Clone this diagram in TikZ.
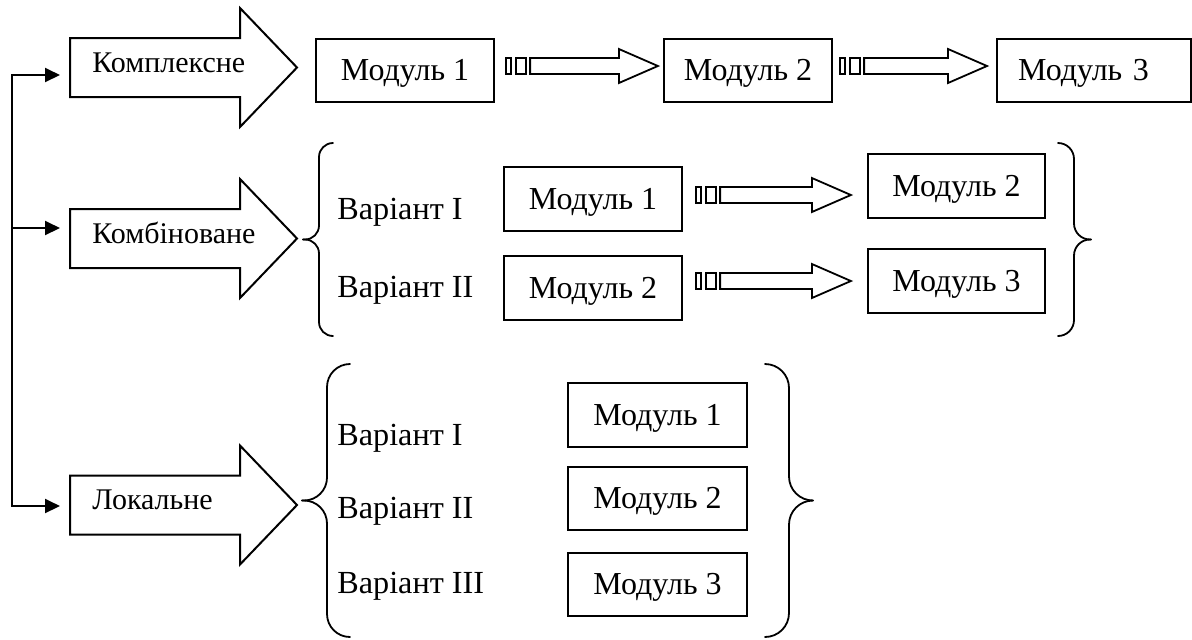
\documentclass[tikz,border=0pt]{standalone}
\usepackage{fontspec}
\setmainfont{Liberation Serif}
\usetikzlibrary{positioning,calc,arrows.meta}
\tikzstyle{scheme} = [x = 0.5pt, y = -0.5pt]
\tikzstyle{blockStyle} = [draw=black, fill=white, line width=1pt]
\tikzstyle{blockText} = [anchor=base west, inner sep=0pt, font=\fontsize{15}{17}\selectfont]
\tikzstyle{moduleBox} = [draw=black, line width=1.1pt, minimum height=31.5pt, inner sep=0pt, text height=10.5pt, text depth=0.5pt, font=\fontsize{16}{18}\selectfont]
\tikzstyle{variantText} = [anchor=base west, inner sep=0pt, font=\fontsize{16.1}{18}\selectfont]
\tikzstyle{stripeStyle} = [draw=black, fill=white, line width=0.9pt]
\tikzstyle{braceStyle} = [line width=0.9pt, line cap=round]
\tikzstyle{feedArrow} = [line width=1pt, -{Triangle[length=7.5pt,width=7pt]}, shorten >=5pt]
% big hollow arrow with its label, #1 name, #2 centre y, #3 text
\newcommand{\blockArrow}[3]{
  \coordinate (#1) at (70,#2);
  \filldraw [blockStyle] (70,#2-29.5) -- (240,#2-29.5) -- (240,#2-59.5) -- (297,#2)
    -- (240,#2+59.5) -- (240,#2+29.5) -- (70,#2+29.5) -- cycle;
  \node [blockText] (#1Text) at (92,#2+4.5) {#3};
}
% striped arrow between two boxes, #3 start gap, #4 end gap, #5 shift in y
\newcommand{\stripedArrow}[5]{
  \coordinate (arrowStart) at ($(#1.east)+(#3,#5)$);
  \coordinate (arrowHelp) at ($(#2.west)+(-#4,0)$);
  \coordinate (arrowEnd) at (arrowHelp |- arrowStart);
  \filldraw [stripeStyle] ($(arrowStart)+(0,-8)$) rectangle ($(arrowStart)+(5,8)$);
  \filldraw [stripeStyle] ($(arrowStart)+(10,-8)$) rectangle ($(arrowStart)+(20,8)$);
  \filldraw [stripeStyle] ($(arrowStart)+(24,-8)$) -- ($(arrowEnd)+(-39,-8)$) -- ($(arrowEnd)+(-39,-17)$)
    -- (arrowEnd) -- ($(arrowEnd)+(-39,17)$) -- ($(arrowEnd)+(-39,8)$) -- ($(arrowStart)+(24,8)$) -- cycle;
}
% curly brace, #1 end x, #2 line x, #3 tip x, #4 top y, #5 bottom y
\newcommand{\curlyBrace}[5]{
  \pgfmathsetmacro{\braceMid}{(#4+#5)/2}
  \pgfmathsetmacro{\braceRad}{abs(#1-#2)/2}
  \draw [braceStyle, rounded corners=\braceRad pt] (#1,#4) -- (#2,#4) -- (#2,\braceMid) -- (#3,\braceMid);
  \draw [braceStyle, rounded corners=\braceRad pt] (#1,#5) -- (#2,#5) -- (#2,\braceMid) -- (#3,\braceMid);
}
\begin{document}
\begin{tikzpicture}[scheme]
  \useasboundingbox (0,0) rectangle (1192,639);

  \blockArrow{complexArrow}{67.5}{Комплексне}
  \blockArrow{combArrow}{238.5}{Комбіноване}
  \blockArrow{localArrow}{505}{Локальне}

  \coordinate (feedTop) at (12,75);
  \coordinate (feedMid) at (12,228);
  \coordinate (feedBottom) at (12,506);
  \draw [feedArrow] (feedMid) -- (feedTop) -- (feedTop -| complexArrow);
  \draw [feedArrow] (feedMid) -- (feedBottom) -- (feedBottom -| localArrow);
  \draw [feedArrow] (feedMid) -- (feedMid -| combArrow);

  % complex
  \node [moduleBox, minimum width=89pt] (compA) at (405,70.5) {Модуль 1};
  \node [moduleBox, minimum width=84pt] (compB) at (748,70.5) {Модуль 2};
  \node [moduleBox, anchor=west, inner xsep=10.5pt, text width=76pt, align=left] (compC) at (996,70.5) {Модуль 3};
  \stripedArrow{compA}{compB}{11}{5}{-4.5}
  \stripedArrow{compB}{compC}{7}{9}{-4.5}

  % combined
  \curlyBrace{333}{319}{303}{143}{336}
  \node [variantText] (combVarA) at (337,219) {Варіант I};
  \node [variantText] (combVarB) at (337,297) {Варіант II};
  \node [moduleBox, minimum width=89pt, minimum height=32pt] (combA) at (593,199) {Модуль 1};
  \node [moduleBox, minimum width=89pt, minimum height=32pt] (combB) at (593,288) {Модуль 2};
  \node [moduleBox, minimum width=88.5pt, minimum height=32pt] (combC) at (956.5,186) {Модуль 2};
  \node [moduleBox, minimum width=88.5pt, minimum height=32pt] (combD) at (956.5,281) {Модуль 3};
  \stripedArrow{combA}{combC}{13}{16}{-4}
  \stripedArrow{combB}{combD}{13}{16}{-7}
  \curlyBrace{1058}{1074}{1091}{143}{336}

  % local
  \curlyBrace{350}{327}{302}{364}{637}
  \node [variantText] (locVarA) at (337,445) {Варіант I};
  \node [variantText] (locVarB) at (337,518) {Варіант II};
  \node [variantText] (locVarC) at (337,593) {Варіант III};
  \node [moduleBox, minimum width=89.5pt, minimum height=32pt] (locA) at (657.5,415) {Модуль 1};
  \node [moduleBox, minimum width=89.5pt] (locB) at (657.5,498.5) {Модуль 2};
  \node [moduleBox, minimum width=89.5pt] (locC) at (657.5,584.5) {Модуль 3};
  \curlyBrace{765}{789}{813}{364}{637}
\end{tikzpicture}
\end{document}
